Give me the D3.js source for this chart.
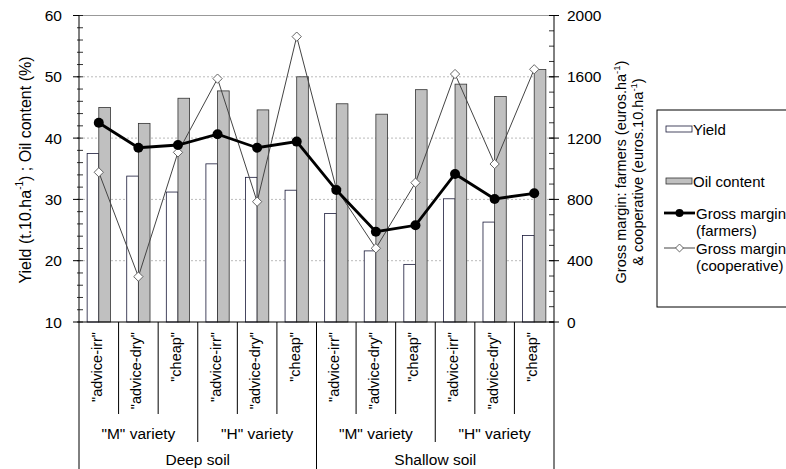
<!DOCTYPE html>
<html>
<head>
<meta charset="utf-8">
<script src="https://cdn.jsdelivr.net/npm/d3@7"></script>
<style>
  body { margin: 0; background: #fff; }
  svg { font-family: Arial, "Liberation Sans", sans-serif; }
</style>
</head>
<body>
<svg id="chart" width="786" height="469"></svg>
<script>
// Dados
const treatments = ['"advice-irr"', '"advice-dry"', '"cheap"'];
const varieties = ['"M" variety', '"H" variety'];
const soils = ["Deep soil", "Shallow soil"];

const yieldVals = [37.5, 33.8, 31.2, 35.8, 33.6, 31.5, 27.7, 21.6, 19.4, 30.1, 26.3, 24.1];
const oilVals = [45.0, 42.4, 46.5, 47.7, 44.6, 50.0, 45.6, 43.9, 47.9, 48.8, 46.8, 51.2];
const gmFarmers = [1300, 1137, 1155, 1225, 1137, 1177, 861, 589, 631, 966, 803, 840];
const gmCoop = [977, 296, 1107, 1588, 785, 1862, 870, 481, 909, 1618, 1031, 1649];

const leftTicks = [10, 20, 30, 40, 50, 60];
const rightTicks = [0, 400, 800, 1200, 1600, 2000];

// Categorias (solo x variedade x tratamento)
const categories = [];
soils.forEach((s, si) => varieties.forEach((v, vi) => treatments.forEach((t, ti) => {
  categories.push({ id: si * 6 + vi * 3 + ti, label: t });
})));

const svg = d3.select("#chart");
const pLeft = 79, pRight = 554, pTop = 15.5, pBottom = 322;

const x = d3.scaleBand().domain(categories.map(d => d.id)).range([pLeft, pRight]).padding(0);
const xSub = d3.scaleBand().domain(["yield", "oil"]).range([0, x.bandwidth()]).paddingInner(0).paddingOuter(0.7);
const yL = d3.scaleLinear().domain([10, 60]).range([pBottom, pTop]);
const yR = d3.scaleLinear().domain([0, 2000]).range([pBottom, pTop]);

// Grade
svg.append("g").selectAll("line")
  .data([20, 30, 40, 50])
  .enter().append("line")
  .attr("x1", pLeft).attr("x2", pRight)
  .attr("y1", d => yL(d)).attr("y2", d => yL(d))
  .attr("stroke", "#bbb").attr("stroke-dasharray", "2,2");

svg.append("line")
  .attr("x1", pLeft).attr("x2", pRight)
  .attr("y1", yL(60)).attr("y2", yL(60))
  .attr("stroke", "#999");

// Barras
const bars = svg.append("g");
bars.selectAll("rect.yield")
  .data(yieldVals)
  .enter().append("rect")
  .attr("x", (d, i) => x(i) + xSub("yield"))
  .attr("y", d => yL(d))
  .attr("width", xSub.bandwidth())
  .attr("height", d => yL(10) - yL(d))
  .attr("fill", "#fff").attr("stroke", "#1a1a3a").attr("stroke-width", 0.8);

bars.selectAll("rect.oil")
  .data(oilVals)
  .enter().append("rect")
  .attr("x", (d, i) => x(i) + xSub("oil"))
  .attr("y", d => yL(d))
  .attr("width", xSub.bandwidth())
  .attr("height", d => yL(10) - yL(d))
  .attr("fill", "#c0c0c0").attr("stroke", "#333").attr("stroke-width", 0.8);

const cx = i => x(i) + x.bandwidth() / 2;

// Linha cooperativa
svg.append("path")
  .datum(gmCoop)
  .attr("d", d3.line().x((d, i) => cx(i)).y(d => yR(d)))
  .attr("fill", "none").attr("stroke", "#444").attr("stroke-width", 1);

svg.append("g").selectAll("path")
  .data(gmCoop)
  .enter().append("path")
  .attr("d", d3.symbol().type(d3.symbolDiamond2).size(55))
  .attr("transform", (d, i) => `translate(${cx(i)},${yR(d)})`)
  .attr("fill", "#fff").attr("stroke", "#555").attr("stroke-width", 0.9);

// Linha agricultores
svg.append("path")
  .datum(gmFarmers)
  .attr("d", d3.line().x((d, i) => cx(i)).y(d => yR(d)))
  .attr("fill", "none").attr("stroke", "#000").attr("stroke-width", 2.8);

svg.append("g").selectAll("circle")
  .data(gmFarmers)
  .enter().append("circle")
  .attr("cx", (d, i) => cx(i)).attr("cy", d => yR(d))
  .attr("r", 5).attr("fill", "#000");

// Eixo esquerdo
const axL = svg.append("g");
axL.append("line").attr("x1", pLeft).attr("x2", pLeft).attr("y1", pTop).attr("y2", pBottom).attr("stroke", "#000");
axL.selectAll("line.minor")
  .data(d3.range(10, 60.1, 2))
  .enter().append("line")
  .attr("x1", pLeft - 2).attr("x2", pLeft + 4)
  .attr("y1", d => yL(d)).attr("y2", d => yL(d))
  .attr("stroke", "#000").attr("stroke-width", 0.8);
axL.selectAll("line.major")
  .data(leftTicks)
  .enter().append("line")
  .attr("x1", pLeft - 6).attr("x2", pLeft)
  .attr("y1", d => yL(d)).attr("y2", d => yL(d))
  .attr("stroke", "#000");
axL.selectAll("text")
  .data(leftTicks)
  .enter().append("text")
  .attr("x", 62).attr("y", d => yL(d))
  .attr("text-anchor", "end").attr("dominant-baseline", "central")
  .attr("font-size", 15.5).text(d => d);

// Eixo direito
const axR = svg.append("g");
axR.append("line").attr("x1", pRight).attr("x2", pRight).attr("y1", pTop).attr("y2", pBottom).attr("stroke", "#000");
axR.selectAll("line.minor")
  .data(d3.range(0, 2001, 100))
  .enter().append("line")
  .attr("x1", pRight - 5).attr("x2", pRight)
  .attr("y1", d => yR(d)).attr("y2", d => yR(d))
  .attr("stroke", "#000").attr("stroke-width", 0.8);
axR.selectAll("line.major")
  .data(rightTicks)
  .enter().append("line")
  .attr("x1", pRight - 5).attr("x2", pRight + 5)
  .attr("y1", d => yR(d)).attr("y2", d => yR(d))
  .attr("stroke", "#000");
axR.selectAll("text")
  .data(rightTicks)
  .enter().append("text")
  .attr("x", 567).attr("y", d => yR(d))
  .attr("dominant-baseline", "central")
  .attr("font-size", 15.5).text(d => d);

// Eixo x
svg.append("line").attr("x1", pLeft).attr("x2", pRight).attr("y1", pBottom).attr("y2", pBottom).attr("stroke", "#000");

const bounds = d3.range(0, 13);
svg.append("g").selectAll("line")
  .data(bounds)
  .enter().append("line")
  .attr("x1", i => pLeft + i * x.step()).attr("x2", i => pLeft + i * x.step())
  .attr("y1", pBottom)
  .attr("y2", i => i % 6 === 0 ? 469 : (i % 3 === 0 ? 442 : 414))
  .attr("stroke", "#000");

svg.append("g").selectAll("text")
  .data(categories)
  .enter().append("text")
  .attr("transform", d => `translate(${cx(d.id) - 2},332) rotate(-90)`)
  .attr("text-anchor", "end").attr("dominant-baseline", "central")
  .attr("font-size", 14.5).text(d => d.label);

const varCenters = d3.range(4).map(k => ({ x: pLeft + (k * 3 + 1.5) * x.step(), label: varieties[k % 2] }));
svg.append("g").selectAll("text")
  .data(varCenters)
  .enter().append("text")
  .attr("x", d => d.x).attr("y", 433)
  .attr("text-anchor", "middle").attr("dominant-baseline", "central")
  .attr("font-size", 15.5).text(d => d.label);

svg.append("g").selectAll("text")
  .data(soils)
  .enter().append("text")
  .attr("x", (d, i) => pLeft + (i * 6 + 3) * x.step()).attr("y", 459)
  .attr("text-anchor", "middle").attr("dominant-baseline", "central")
  .attr("font-size", 15.5).text(d => d);

// Títulos dos eixos
const titleL = svg.append("text")
  .attr("transform", "translate(25,170) rotate(-90)")
  .attr("text-anchor", "middle").attr("dominant-baseline", "central")
  .attr("font-size", 16);
titleL.append("tspan").text("Yield (t.10.ha");
titleL.append("tspan").attr("dy", -6).attr("font-size", 10).text("-1");
titleL.append("tspan").attr("dy", 6).text(") ; Oil content (%)");

const titleR1 = svg.append("text")
  .attr("transform", "translate(621,172) rotate(-90)")
  .attr("text-anchor", "middle").attr("dominant-baseline", "central")
  .attr("font-size", 14.5);
titleR1.append("tspan").text("Gross margin: farmers (euros.ha");
titleR1.append("tspan").attr("dy", -5).attr("font-size", 9.5).text("-1");
titleR1.append("tspan").attr("dy", 5).text(")");

const titleR2 = svg.append("text")
  .attr("transform", "translate(638,172) rotate(-90)")
  .attr("text-anchor", "middle").attr("dominant-baseline", "central")
  .attr("font-size", 14.5);
titleR2.append("tspan").text("& cooperative (euros.10.ha");
titleR2.append("tspan").attr("dy", -5).attr("font-size", 9.5).text("-1");
titleR2.append("tspan").attr("dy", 5).text(")");

// Legenda
const leg = svg.append("g");
leg.append("rect").attr("x", 657).attr("y", 110).attr("width", 140).attr("height", 197)
  .attr("fill", "#fff").attr("stroke", "#000");

leg.append("rect").attr("x", 666).attr("y", 126).attr("width", 26).attr("height", 6)
  .attr("fill", "#fff").attr("stroke", "#1a1a3a").attr("stroke-width", 0.8);
leg.append("text").attr("x", 693).attr("y", 129).attr("dominant-baseline", "central")
  .attr("font-size", 15).text("Yield");

leg.append("rect").attr("x", 666).attr("y", 178).attr("width", 26).attr("height", 6)
  .attr("fill", "#c0c0c0").attr("stroke", "#333").attr("stroke-width", 0.8);
leg.append("text").attr("x", 693).attr("y", 181).attr("dominant-baseline", "central")
  .attr("font-size", 15).text("Oil content");

leg.append("line").attr("x1", 664).attr("x2", 695).attr("y1", 213).attr("y2", 213)
  .attr("stroke", "#000").attr("stroke-width", 2.8);
leg.append("circle").attr("cx", 679.5).attr("cy", 213).attr("r", 4).attr("fill", "#000");
leg.append("text").attr("x", 696).attr("y", 213).attr("dominant-baseline", "central")
  .attr("font-size", 15).text("Gross margin");
leg.append("text").attr("x", 696).attr("y", 230).attr("dominant-baseline", "central")
  .attr("font-size", 15).text("(farmers)");

leg.append("line").attr("x1", 664).attr("x2", 695).attr("y1", 248).attr("y2", 248)
  .attr("stroke", "#444").attr("stroke-width", 1);
leg.append("path").attr("d", d3.symbol().type(d3.symbolDiamond2).size(40))
  .attr("transform", "translate(679.5,248)")
  .attr("fill", "#fff").attr("stroke", "#555").attr("stroke-width", 0.9);
leg.append("text").attr("x", 696).attr("y", 248).attr("dominant-baseline", "central")
  .attr("font-size", 15).text("Gross margin");
leg.append("text").attr("x", 696).attr("y", 265).attr("dominant-baseline", "central")
  .attr("font-size", 15).text("(cooperative)");
</script>
</body>
</html>
